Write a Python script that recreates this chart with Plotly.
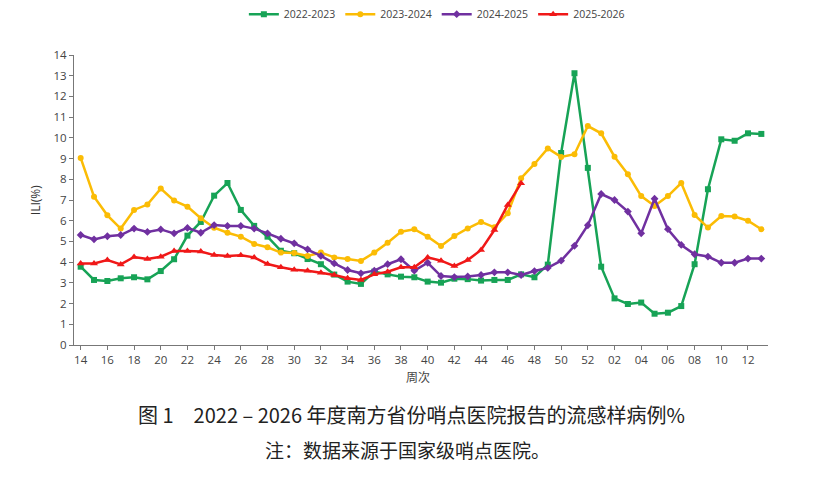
import plotly.graph_objects as go

weeks = list(range(14, 53)) + list(range(1, 14))
week_labels = ["%02d" % w for w in weeks]

s2022 = [3.78, 3.14, 3.09, 3.22, 3.27, 3.17, 3.57, 4.14, 5.28, 5.94, 7.21, 7.82, 6.52, 5.75, 5.23, 4.55,
         4.43, 4.15, 3.90, 3.40, 3.06, 2.95, 3.54, 3.41, 3.30, 3.27, 3.06, 3.01, 3.20, 3.18, 3.11, 3.14,
         3.14, 3.41, 3.27, 3.88, 9.27, 13.12, 8.55, 3.78, 2.25, 1.98, 2.05, 1.51, 1.56, 1.88, 3.90, 7.52,
         9.93, 9.86, 10.22, 10.19]
s2023 = [9.03, 7.16, 6.26, 5.62, 6.52, 6.78, 7.55, 6.97, 6.68, 6.12, 5.66, 5.42, 5.23, 4.88, 4.72, 4.46,
         4.44, 4.30, 4.46, 4.23, 4.15, 4.06, 4.46, 4.94, 5.47, 5.59, 5.23, 4.78, 5.26, 5.63, 5.94, 5.68,
         6.36, 8.05, 8.74, 9.49, 9.08, 9.21, 10.57, 10.22, 9.09, 8.24, 7.19, 6.71, 7.19, 7.82, 6.28, 5.67,
         6.23, 6.20, 6.00, 5.59]
s2024 = [5.31, 5.10, 5.25, 5.31, 5.62, 5.46, 5.58, 5.39, 5.65, 5.42, 5.79, 5.75, 5.75, 5.62, 5.39, 5.13,
         4.91, 4.62, 4.30, 3.94, 3.62, 3.46, 3.59, 3.90, 4.14, 3.59, 3.97, 3.33, 3.28, 3.31, 3.38, 3.51,
         3.51, 3.38, 3.57, 3.72, 4.07, 4.79, 5.78, 7.29, 7.00, 6.44, 5.39, 7.06, 5.59, 4.83, 4.38, 4.27,
         3.97, 3.97, 4.17, 4.17]
s2025 = [3.94, 3.94, 4.10, 3.89, 4.25, 4.15, 4.26, 4.54, 4.54, 4.51, 4.34, 4.30, 4.33, 4.23, 3.91, 3.75,
         3.63, 3.58, 3.49, 3.38, 3.22, 3.14, 3.41, 3.54, 3.75, 3.75, 4.23, 4.07, 3.81, 4.10, 4.59, 5.55,
         6.76, 7.81]

series = [
    ("2022-2023", s2022, "#17a356", "square", 6),
    ("2023-2024", s2023, "#fbbc05", "circle", 6),
    ("2024-2025", s2024, "#7030a0", "diamond", 6),
    ("2025-2026", s2025, "#f01818", "triangle-up", 7),
]

x_idx = list(range(len(weeks)))

fig = go.Figure()
for name, vals, color, sym, size in series:
    fig.add_trace(go.Scatter(
        x=x_idx[:len(vals)], y=vals, name=name, mode="lines+markers",
        line=dict(color=color, width=2.5),
        marker=dict(symbol=sym, size=size, color=color),
    ))

tick_pos = x_idx[::2]
tick_txt = week_labels[::2]

axis_font = dict(family="Open Sans, Noto Sans, sans-serif", size=11.5, color="#444")

fig.update_layout(
    width=820, height=472,
    margin=dict(l=66, r=60, t=47, b=135, autoexpand=False),
    paper_bgcolor="white", plot_bgcolor="white",
    showlegend=True,
    legend=dict(orientation="h", x=0.523, y=0.987, xref="container", yref="container",
                xanchor="center", yanchor="middle",
                font=dict(family="Open Sans, Noto Sans, sans-serif", size=10.5, color="#444"),
                itemwidth=30, tracegroupgap=0),
    xaxis=dict(range=[-0.5, len(weeks) - 0.5], tickvals=tick_pos, ticktext=tick_txt,
               showgrid=False, zeroline=False, showline=True, linecolor="#777", linewidth=1,
               ticks="outside", ticklen=4, tickcolor="#777", tickfont=axis_font),
    yaxis=dict(range=[0, 14], dtick=1, showgrid=False, zeroline=False, showline=True,
               linecolor="#777", linewidth=1, ticks="outside", ticklen=4, tickcolor="#777",
               tickfont=axis_font),
    annotations=[
        dict(text="周次", xref="paper", yref="paper", x=0.496, y=-0.11, showarrow=False,
             xanchor="center", yanchor="middle",
             font=dict(family="Noto Sans CJK SC", size=12, color="#444")),
        dict(text="ILI(%)", xref="paper", yref="paper", x=-0.056, y=0.5, showarrow=False,
             textangle=-90, xanchor="center", yanchor="middle",
             font=dict(family="Open Sans, Noto Sans, sans-serif", size=12, color="#333")),
        dict(text="图 1　2022 – 2026 年度南方省份哨点医院报告的流感样病例%", xref="paper", yref="paper",
             x=0.486, y=-0.241, showarrow=False, xanchor="center", yanchor="middle",
             font=dict(family="Noto Sans CJK SC", size=20, color="#222")),
        dict(text="注：数据来源于国家级哨点医院。", xref="paper", yref="paper",
             x=0.48, y=-0.362, showarrow=False, xanchor="center", yanchor="middle",
             font=dict(family="Noto Sans CJK SC", size=19, color="#222")),
    ],
)

fig.write_html("out.html")
